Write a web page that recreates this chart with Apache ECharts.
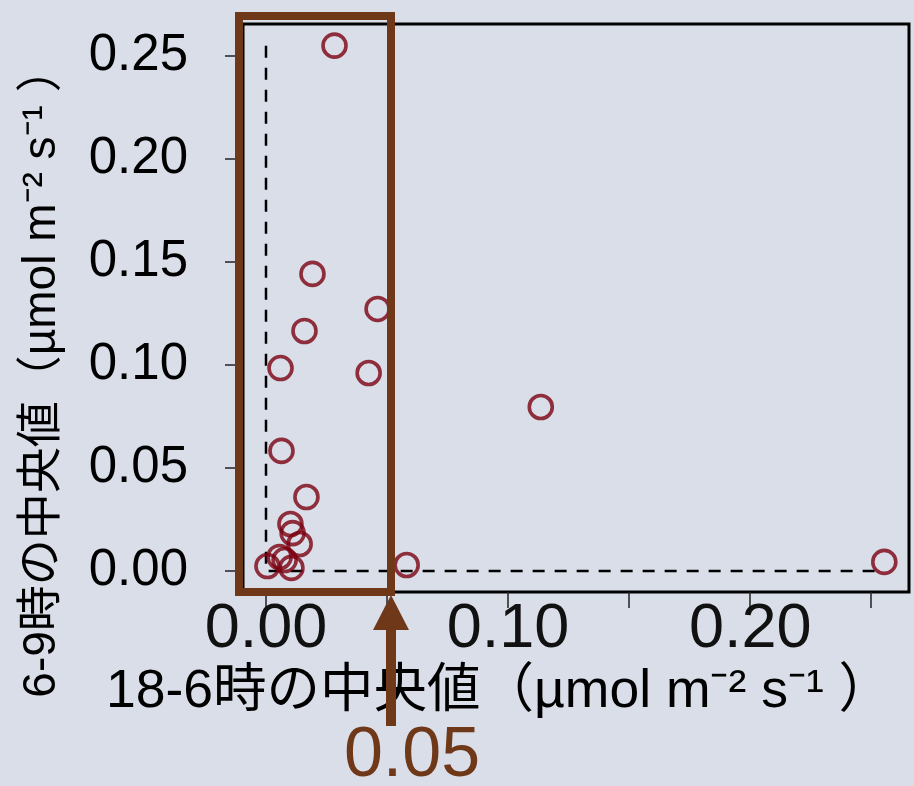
<!DOCTYPE html>
<html>
<head>
<meta charset="utf-8">
<script src="https://cdn.jsdelivr.net/npm/echarts@6/dist/echarts.min.js"></script>
<style>
html,body{margin:0;padding:0;background:#D9DEE8;}
#chart{width:914px;height:786px;}
</style>
</head>
<body>
<div id="chart"></div>
<script>
// Data: 18-6時の中央値 (x) vs 6-9時の中央値 (y)
const pointsX = [0.0283, 0.0192, 0.0461, 0.0159, 0.0424, 0.0060, 0.1135, 0.0064, 0.0167,
                 0.0101, 0.0110, 0.0139, 0.0006, 0.0056, 0.0077, 0.0105, 0.0581, 0.2554];
const pointsY = [0.2550, 0.1442, 0.1272, 0.1165, 0.0961, 0.0985, 0.0796, 0.0583, 0.0359,
                 0.0228, 0.0184, 0.0131, 0.0024, 0.0068, 0.0053, 0.0015, 0.0029, 0.0044];

const xTickValues = [0, 0.05, 0.10, 0.15, 0.20, 0.25];
const xLabelValues = [0, 0.10, 0.20];
const yTickValues = [0, 0.05, 0.10, 0.15, 0.20, 0.25];
const yLabelValues = [0, 0.05, 0.10, 0.15, 0.20, 0.25];

const xAxisMin = -0.0095, xAxisMax = 0.2656;
const yAxisMin = -0.0102, yAxisMax = 0.2655;

const xTitle = '18-6時の中央値（µmol m⁻² s⁻¹ ）';
const yTitle = '6-9時の中央値（µmol m⁻² s⁻¹ ）';
const noteText = '0.05';

const FONT = "'Liberation Sans', Arial, 'Noto Sans CJK JP', sans-serif";
const BROWN = '#6F3818';
const RED = '#7A0010';

const scatterData = pointsX.map((x, i) => [x, pointsY[i]]);
const xMax = Math.max(...pointsX);
const yMax = Math.max(...pointsY);

const chart = echarts.init(document.getElementById('chart'), null, {renderer: 'canvas'});
chart.setOption({
  backgroundColor: '#D9DEE8',
  animation: false,
  grid: {
    left: 243, right: 5, top: 24, bottom: 194,
    show: true, borderColor: '#000', borderWidth: 3, backgroundColor: 'transparent'
  },
  xAxis: {
    type: 'value', min: xAxisMin, max: xAxisMax,
    splitLine: {show: false},
    axisLine: {show: false, onZero: false},
    axisTick: {show: true, inside: false, customValues: xTickValues, length: 16, lineStyle: {color: '#222', width: 1.5}},
    axisLabel: {
      customValues: xLabelValues, margin: 6,
      fontFamily: FONT, fontSize: 63, color: '#111',
      formatter: v => v.toFixed(2)
    },
    name: xTitle, nameLocation: 'middle', nameGap: 62,
    nameTextStyle: {fontFamily: FONT, fontSize: 53.5, color: '#000', padding: [0, 154, 0, 0]}
  },
  yAxis: {
    type: 'value', min: yAxisMin, max: yAxisMax,
    splitLine: {show: false},
    axisLine: {show: false, onZero: false},
    axisTick: {show: true, inside: false, customValues: yTickValues, length: 18, lineStyle: {color: '#222', width: 1.5}},
    axisLabel: {
      customValues: yLabelValues, margin: 55,
      fontFamily: FONT, fontSize: 51, color: '#000',
      formatter: v => v.toFixed(2)
    },
    name: yTitle, nameLocation: 'middle', nameGap: 178, nameRotate: 90,
    nameTextStyle: {fontFamily: FONT, fontSize: 46, color: '#000', padding: [0, 128, 0, 0]}
  },
  series: [
    {
      type: 'line', silent: true, symbol: 'none', z: 1,
      data: [[0, yMax], [0, 0], [xMax, 0]],
      lineStyle: {color: '#000', width: 2.5, type: [12, 10]}
    },
    {
      type: 'scatter', z: 2,
      data: scatterData,
      symbol: 'circle', symbolSize: 23,
      itemStyle: {color: 'transparent', borderColor: RED, borderWidth: 3.6}
    }
  ],
  graphic: [
    {type: 'rect', z: 100, shape: {x: 239, y: 16, width: 152, height: 576},
     style: {fill: 'none', stroke: BROWN, lineWidth: 8}},
    {type: 'rect', z: 100, shape: {x: 386, y: 626, width: 10, height: 100},
     style: {fill: BROWN}},
    {type: 'polygon', z: 100, shape: {points: [[391, 595], [373, 630], [409, 630]]},
     style: {fill: BROWN}},
    {type: 'text', z: 100, x: 412, y: 757,
     style: {text: noteText, font: "70px 'Liberation Sans', Arial, sans-serif", fill: BROWN,
             textAlign: 'center', textVerticalAlign: 'middle'}}
  ]
});
</script>
</body>
</html>
